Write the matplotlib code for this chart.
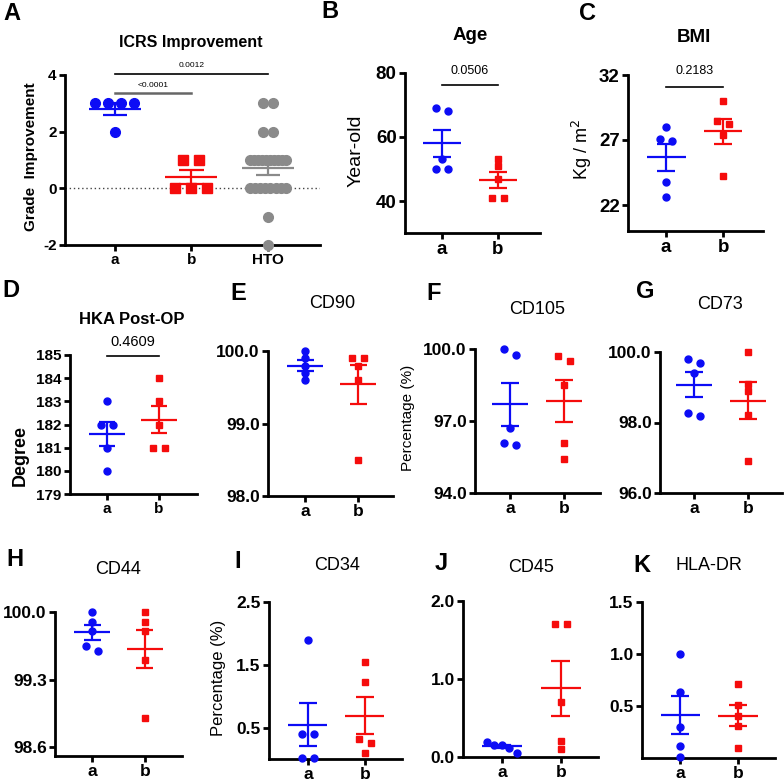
import numpy as np
import matplotlib
matplotlib.use('Agg')
import matplotlib.pyplot as plt

plt.rcParams['font.family'] = ['Liberation Sans', 'DejaVu Sans']

W = H = 784
BLUE = '#0c0cf5'
RED = '#f50c0c'
GREY = '#8a8a8a'

# values
cats_ab = ['a', 'b']
cats_icrs = ['a', 'b', 'HTO']

icrs_a = [3, 3, 3, 3, 2]
icrs_b = [1, 1, 0, 0, 0]
icrs_hto = [3, 3, 2, 2, 1, 1, 1, 1, 1, 1, 1, 1, 1, 1,
            0, 0, 0, 0, 0, 0, 0, 0, -1, -2]
icrs_p = ['<0.0001', '0.0012']

age_a = [69, 68, 53, 50, 50]
age_b = [53, 51, 47, 41, 41]
age_p = '0.0506'

bmi_a = [28.0, 27.1, 26.9, 23.8, 22.6]
bmi_b = [30.0, 28.5, 28.2, 27.4, 24.2]
bmi_p = '0.2183'

hka_a = [183, 182, 182, 181, 180]
hka_b = [184, 183, 182, 181, 181]
hka_p = '0.4609'

cd90_a = [100.0, 99.9, 99.8, 99.7, 99.6]
cd90_b = [99.9, 99.9, 99.8, 99.6, 98.5]

cd105_a = [100.0, 99.76, 96.7, 96.1, 95.98]
cd105_b = [99.7, 99.5, 98.5, 96.1, 95.4]

cd73_a = [99.81, 99.7, 99.4, 98.28, 98.19]
cd73_b = [100.0, 99.1, 98.9, 98.2, 96.9]

cd44_a = [100.0, 99.9, 99.8, 99.65, 99.6]
cd44_b = [100.0, 99.9, 99.8, 99.5, 98.9]

cd34_a = [1.9, 0.4, 0.4, 0.02, 0.02]
cd34_b = [1.55, 1.22, 0.32, 0.25, 0.1]

cd45_a = [0.19, 0.16, 0.15, 0.12, 0.055]
cd45_b = [1.7, 1.7, 0.7, 0.2, 0.1]

hla_a = [1.0, 0.63, 0.3, 0.12, 0.01]
hla_b = [0.71, 0.51, 0.4, 0.31, 0.1]

fig = plt.figure(figsize=(W / 100, H / 100), dpi=100)


def px_axes(x0, x1, ytop, ybot):
    return fig.add_axes([x0 / W, 1 - ybot / H, (x1 - x0) / W, (ybot - ytop) / H])


def ftext(x, y, s, **kw):
    kw.setdefault('ha', 'center')
    kw.setdefault('va', 'center')
    fig.text(x / W, 1 - y / H, s, **kw)


def style(ax, cats, xlim, ylim, yticks, fmt, fs):
    ax.set_xlim(xlim)
    ax.set_ylim(ylim)
    ax.spines[['top', 'right']].set_visible(False)
    for side in ('left', 'bottom'):
        ax.spines[side].set_linewidth(2.0)
    ax.set_yticks(yticks)
    ax.set_yticklabels([fmt.format(t) for t in yticks])
    ax.set_xticks(range(len(cats)))
    ax.set_xticklabels(cats)
    ax.tick_params(direction='out', length=4, width=2.0, labelsize=fs, pad=2)
    for lab in ax.get_xticklabels() + ax.get_yticklabels():
        lab.set_fontweight('bold')


def group(ax, x0, vals, color, marker, ms, step=12, maxw=30, thr=6,
          mean_w=0.34, cap_w=0.16):
    vals = np.asarray(vals, dtype=float)
    ypix = ax.transData.transform(np.column_stack([np.full(len(vals), x0), vals]))[:, 1]
    xscale = ax.transData.transform((1, 0))[0] - ax.transData.transform((0, 0))[0]
    order = np.argsort(-ypix)
    clusters, cur = [], [order[0]]
    for i in order[1:]:
        if abs(ypix[i] - ypix[cur[-1]]) < thr:
            cur.append(i)
        else:
            clusters.append(cur)
            cur = [i]
    clusters.append(cur)
    xs = np.full(len(vals), float(x0))
    for cl in clusters:
        k = len(cl)
        if k > 1:
            sp = min(step, maxw / (k - 1))
            for j, i in enumerate(cl):
                xs[i] = x0 + (j - (k - 1) / 2) * sp / xscale
    ax.plot(xs, vals, ls='none', marker=marker, ms=ms, color=color,
            mec=color, clip_on=False, zorder=3)
    m = vals.mean()
    s = vals.std(ddof=1) / np.sqrt(len(vals))
    ax.hlines(m, x0 - mean_w, x0 + mean_w, color=color, lw=1.6, zorder=4)
    ax.hlines([m - s, m + s], x0 - cap_w, x0 + cap_w, color=color, lw=1.6, zorder=4)
    ax.vlines(x0, m - s, m + s, color=color, lw=1.6, zorder=4)


def bracket(ax, x1, x2, y, ty, txt, fs, color='black', lw=1.2):
    ax.plot([x1, x2], [y, y], color=color, lw=lw, clip_on=False)
    ax.text((x1 + x2) / 2, ty, txt, ha='center', va='center', fontsize=fs,
            clip_on=False)


# ---- A: ICRS improvement ----
ax = px_axes(65, 320, 75, 245)
style(ax, cats_icrs, (-0.65, 2.68), (-2, 4), [-2, 0, 2, 4], '{:g}', 11)
ax.axhline(0, color='#444444', lw=1.0, ls=(0, (1, 2)), zorder=1)
group(ax, 0, icrs_a, BLUE, 'o', 7, step=13, maxw=45, thr=8)
group(ax, 1, icrs_b, RED, 's', 6.5, step=16, maxw=45, thr=8)
group(ax, 2, icrs_hto, GREY, 'o', 7, step=10, maxw=36, thr=8)
bracket(ax, 0, 1, 3.37, 3.62, icrs_p[0], 6, color='#666666', lw=1.8)
bracket(ax, 0, 2, 4.03, 4.35, icrs_p[1], 6)
ftext(191, 43, 'ICRS Improvement', fontsize=11.5, fontweight='bold')
ftext(31, 157, 'Grade  Improvement', fontsize=11, fontweight='bold', rotation=90)
ftext(12, 14, 'A', fontsize=17, fontweight='bold')

# ---- B: age ----
ax = px_axes(405, 540, 73, 233)
style(ax, cats_ab, (-0.66, 1.75), (30, 80), [40, 60, 80], '{:g}', 13.5)
group(ax, 0, age_a, BLUE, 'o', 5)
group(ax, 1, age_b, RED, 's', 5)
bracket(ax, 0, 1, 76.4, 80.6, age_p, 9)
ftext(470, 36, 'Age', fontsize=13.5, fontweight='bold')
ftext(356, 151, 'Year-old', fontsize=14, rotation=90)
ftext(330, 11, 'B', fontsize=17, fontweight='bold')

# ---- C: BMI ----
ax = px_axes(628, 763, 75, 231)
style(ax, cats_ab, (-0.67, 1.70), (20, 32), [22, 27, 32], '{:g}', 13.5)
group(ax, 0, bmi_a, BLUE, 'o', 5)
group(ax, 1, bmi_b, RED, 's', 5)
bracket(ax, 0, 1, 31.1, 32.3, bmi_p, 9)
ftext(694, 38, 'BMI', fontsize=13.5, fontweight='bold')
ftext(582, 150, 'Kg / m$^2$', fontsize=13, rotation=90)
ftext(587, 13, 'C', fontsize=17, fontweight='bold')

# ---- D: HKA post-op ----
ax = px_axes(70, 197, 355, 494)
style(ax, cats_ab, (-0.71, 1.73), (179, 185), list(range(179, 186)), '{:g}', 11)
group(ax, 0, hka_a, BLUE, 'o', 5)
group(ax, 1, hka_b, RED, 's', 5)
bracket(ax, 0, 1, 184.96, 185.58, hka_p, 10.5)
ftext(132, 320, 'HKA Post-OP', fontsize=12, fontweight='bold')
ftext(20, 455, 'Degree', fontsize=13, fontweight='bold', rotation=90)
ftext(11, 290, 'D', fontsize=17, fontweight='bold')

# ---- E: CD90 ----
ax = px_axes(268, 393, 351, 496)
style(ax, cats_ab, (-0.70, 1.66), (98, 100), [98, 99, 100], '{:.1f}', 12.5)
group(ax, 0, cd90_a, BLUE, 'o', 5)
group(ax, 1, cd90_b, RED, 's', 5)
ftext(332, 304, 'CD90', fontsize=13)
ftext(238, 294, 'E', fontsize=17, fontweight='bold')

# ---- F: CD105 ----
ax = px_axes(475, 600, 349, 493)
style(ax, cats_ab, (-0.65, 1.67), (94, 100), [94, 97, 100], '{:.1f}', 12.5)
group(ax, 0, cd105_a, BLUE, 'o', 5)
group(ax, 1, cd105_b, RED, 's', 5)
ftext(537, 309, 'CD105', fontsize=13)
ftext(408, 418, 'Percentage (%)', fontsize=11, rotation=90)
ftext(434, 294, 'F', fontsize=17, fontweight='bold')

# ---- G: CD73 ----
ax = px_axes(660, 782, 352, 493)
style(ax, cats_ab, (-0.63, 1.63), (96, 100), [96, 98, 100], '{:.1f}', 12.5)
group(ax, 0, cd73_a, BLUE, 'o', 5)
group(ax, 1, cd73_b, RED, 's', 5)
ftext(720, 305, 'CD73', fontsize=13)
ftext(645, 291, 'G', fontsize=17, fontweight='bold')

# ---- H: CD44 ----
ax = px_axes(55, 182, 612, 756)
style(ax, cats_ab, (-0.70, 1.70), (98.51, 100.0), [98.6, 99.3, 100.0], '{:.1f}', 12.5)
group(ax, 0, cd44_a, BLUE, 'o', 5)
group(ax, 1, cd44_b, RED, 's', 5)
ftext(118, 569, 'CD44', fontsize=13)
ftext(15, 560, 'H', fontsize=17, fontweight='bold')

# ---- I: CD34 ----
ax = px_axes(269, 402, 602, 759)
style(ax, cats_ab, (-0.68, 1.65), (0, 2.5), [0.5, 1.5, 2.5], '{:.1f}', 12.5)
group(ax, 0, cd34_a, BLUE, 'o', 5)
group(ax, 1, cd34_b, RED, 's', 5)
ftext(337, 565, 'CD34', fontsize=13)
ftext(218, 678, 'Percentage (%)', fontsize=12, rotation=90)
ftext(238, 561, 'I', fontsize=17, fontweight='bold')

# ---- J: CD45 ----
ax = px_axes(463, 598, 601, 757)
style(ax, cats_ab, (-0.66, 1.63), (0, 2.0), [0.0, 1.0, 2.0], '{:.1f}', 12.5)
group(ax, 0, cd45_a, BLUE, 'o', 5)
group(ax, 1, cd45_b, RED, 's', 5)
ftext(531, 567, 'CD45', fontsize=13)
ftext(441, 563, 'J', fontsize=17, fontweight='bold')

# ---- K: HLA-DR ----
ax = px_axes(642, 775, 602, 758)
style(ax, cats_ab, (-0.66, 1.64), (0, 1.5), [0.5, 1.0, 1.5], '{:.1f}', 12.5)
group(ax, 0, hla_a, BLUE, 'o', 5)
group(ax, 1, hla_b, RED, 's', 5)
ftext(709, 565, 'HLA-DR', fontsize=13)
ftext(642, 565, 'K', fontsize=17, fontweight='bold')

fig.savefig('out.png', dpi=100)
